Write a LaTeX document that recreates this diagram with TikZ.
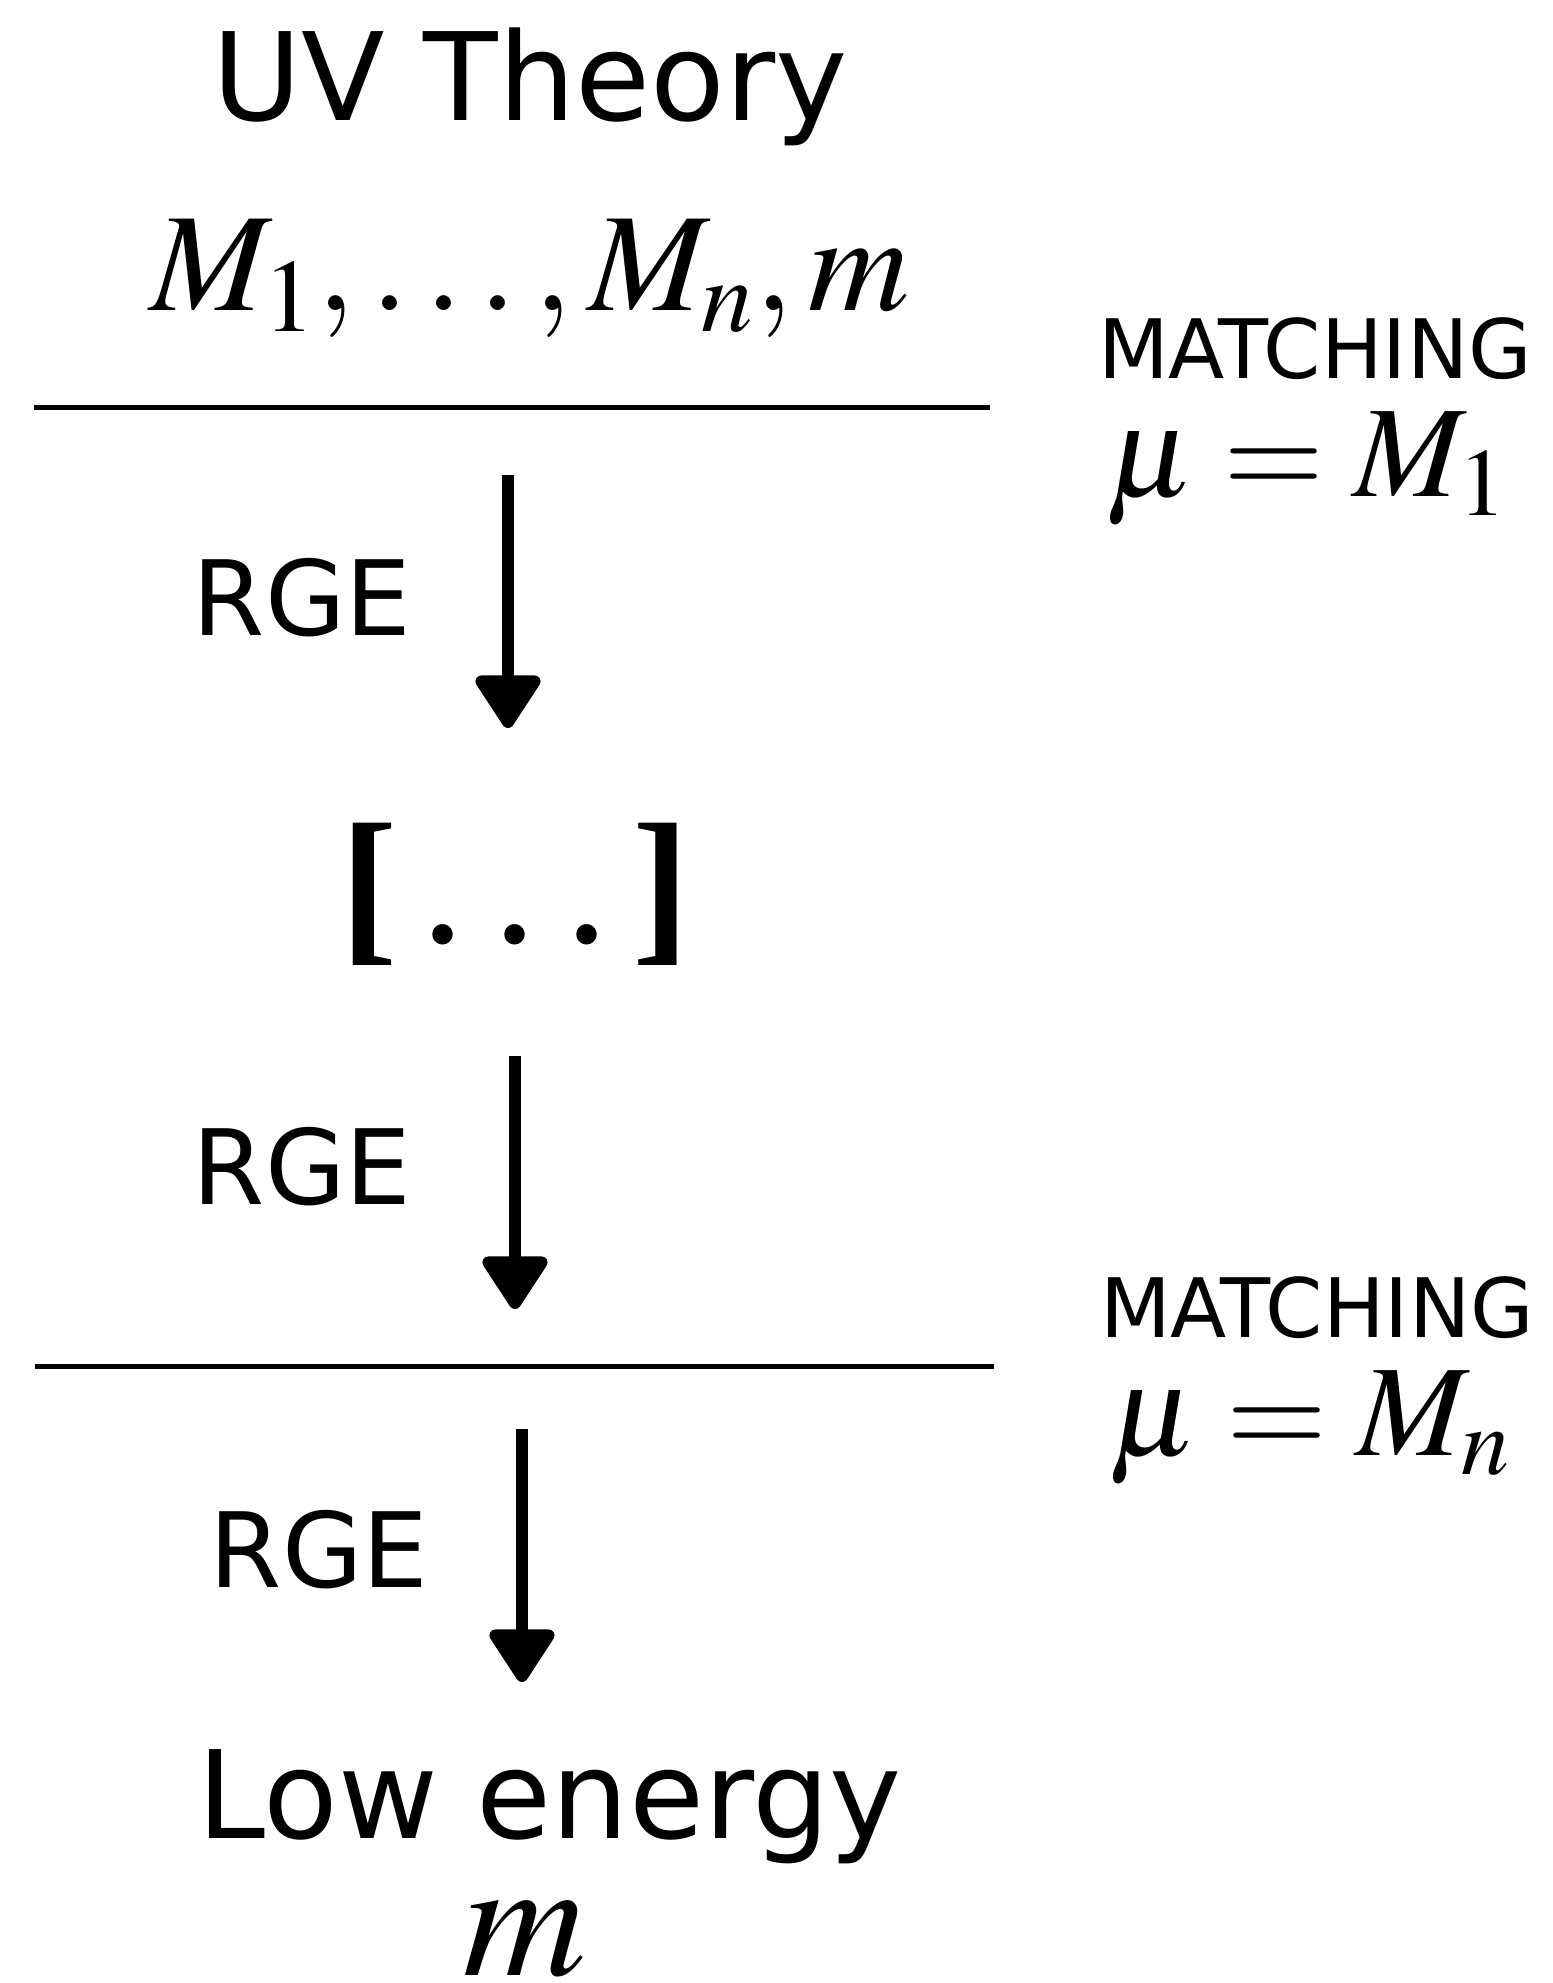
\documentclass[tikz,border=0pt]{standalone}
\usepackage{mathptmx}
\usepackage[no-math]{fontspec}
\setmainfont{DejaVu Sans}
\newfontfamily\bracketfont{Liberation Serif}
\usetikzlibrary{arrows.meta}

\tikzset{
  heading/.style={anchor=base, inner sep=0pt, font=\fontsize{61}{73}\selectfont},
  rgelabel/.style={anchor=base, inner sep=0pt, font=\fontsize{52}{62}\selectfont},
  matchlabel/.style={anchor=base, inner sep=0pt, text depth=0pt, font=\fontsize{41}{49}\selectfont},
  scalelabel/.style={anchor=base, inner sep=0pt, text height=0.66em, font=\fontsize{65}{78}\selectfont},
  masslabel/.style={anchor=base, inner sep=0pt, font=\fontsize{70}{84}\selectfont},
  biglabel/.style={anchor=base, inner sep=0pt, text height=0.45em, text depth=0pt, font=\fontsize{85}{100}\selectfont},
  gaplabel/.style={anchor=base, inner sep=0pt, font=\bracketfont\fontsize{86}{100}\selectfont},
  flow/.style={line width=6pt, -{Triangle[width=36pt,length=29pt,round]}},
  cut/.style={line width=2.5pt}
}

\begin{document}
\begin{tikzpicture}[x=0.5pt,y=-0.5pt]
\useasboundingbox (0,0) rectangle (1553,1983);
% UV side
\node[heading] (uv) at (530,120) {UV Theory};
\node[masslabel] (masses) at (530,310) {$M_1,\ldots,M_n,m$};
\coordinate (cut1l) at (34,407);
\coordinate (cut1r) at (990,407);
\draw[cut] (cut1l) -- (cut1r);
\node[matchlabel] (match1) at (1315,378) {MATCHING};
\node[scalelabel] (mu1) at (1307,496) {$\mu = M_1$};
% running down
\node[rgelabel] (rge1) at (302,635) {RGE};
\coordinate (a1s) at (508,475);
\coordinate (a1e) at (508,728);
\draw[flow] (a1s) -- (a1e);
\node[gaplabel] (gap) at (515,942) {\textbf{[}\hspace{12pt}.\hspace{14.5pt}.\hspace{14.5pt}.\hspace{12pt}\textbf{]}};
\node[rgelabel] (rge2) at (302,1204) {RGE};
\coordinate (a2s) at (515,1056);
\coordinate (a2e) at (515,1309);
\draw[flow] (a2s) -- (a2e);
\node[matchlabel] (match2) at (1317,1337) {MATCHING};
\coordinate (cut2l) at (35,1366);
\coordinate (cut2r) at (994,1366);
\draw[cut] (cut2l) -- (cut2r);
\node[scalelabel] (mu2) at (1310,1455) {$\mu = M_n$};
\node[rgelabel] (rge3) at (319,1587) {RGE};
\coordinate (a3s) at (522,1429);
\coordinate (a3e) at (522,1682);
\draw[flow] (a3s) -- (a3e);
% low energy side
\node[heading] (low) at (550,1838) {Low energy};
\node[biglabel] (mlow) at (525,1975) {$m$};
\end{tikzpicture}
\end{document}
